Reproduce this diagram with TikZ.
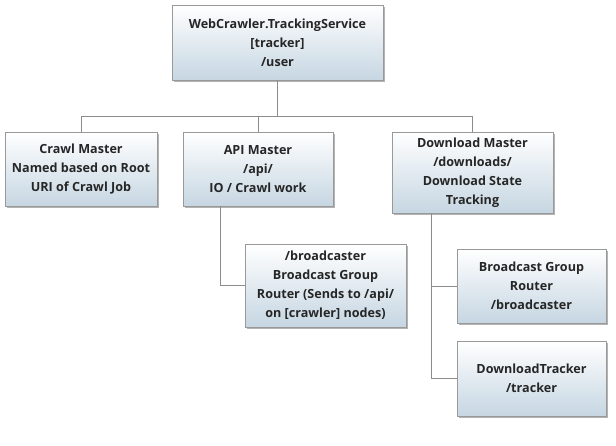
\documentclass[tikz,border=0pt]{standalone}
\usepackage{fontspec}
\setmainfont{Open Sans}
\usetikzlibrary{shadows}

\definecolor{boxblue}{RGB}{198,214,226}
\definecolor{linegray}{RGB}{140,140,140}

\begin{document}
\begin{tikzpicture}[x=1pt,y=-1pt,
  box/.style={draw=black!40, top color=white, bottom color=boxblue, align=center,
    font=\bfseries\fontsize{12.6}{19}\selectfont, text=black!85, inner sep=0pt,
    drop shadow={shadow xshift=2pt,shadow yshift=-2pt,opacity=0.6}},
  link/.style={draw=linegray, line width=0.8pt}]
\useasboundingbox (0,0) rectangle (616,446);

\node[box, minimum width=211pt, minimum height=75pt] (svc) at (277.5,42.5)
  {WebCrawler.TrackingService\\{}[tracker]\\/user};
\node[box, minimum width=152pt, minimum height=74pt] (crawl) at (81,169)
  {Crawl Master\\Named based on Root\\URI of Crawl Job};
\node[box, minimum width=150pt, minimum height=74pt] (api) at (258,169)
  {API Master\\/api/\\IO / Crawl work};
\node[box, minimum width=161pt, minimum height=81pt] (dl) at (472.5,172.5)
  {Download Master\\/downloads/\\Download State\\Tracking};
\node[box, minimum width=161pt, minimum height=83pt] (bcast) at (325.5,285.5)
  {/broadcaster\\Broadcast Group\\Router (Sends to /api/\\on [crawler] nodes)};
\node[box, minimum width=149pt, minimum height=74pt] (dlbcast) at (531.5,286)
  {Broadcast Group\\Router\\/broadcaster};
\node[box, minimum width=149pt, minimum height=75pt] (tracker) at (531.5,378.5)
  {DownloadTracker\\/tracker};

\coordinate (bus) at (0,116.5);

\draw[link] (svc.south) -- (svc.south |- bus);
\draw[link] (crawl.north) -- (crawl.north |- bus) -- (dl.north |- bus) -- (dl.north);
\draw[link] (api.north) -- (api.north |- bus);
\draw[link] ([xshift=38pt]api.south west) |- (bcast.west);
\draw[link] ([xshift=40pt]dl.south west) |- (dlbcast.west);
\draw[link] ([xshift=40pt]dl.south west) |- (tracker.west);
\end{tikzpicture}
\end{document}
